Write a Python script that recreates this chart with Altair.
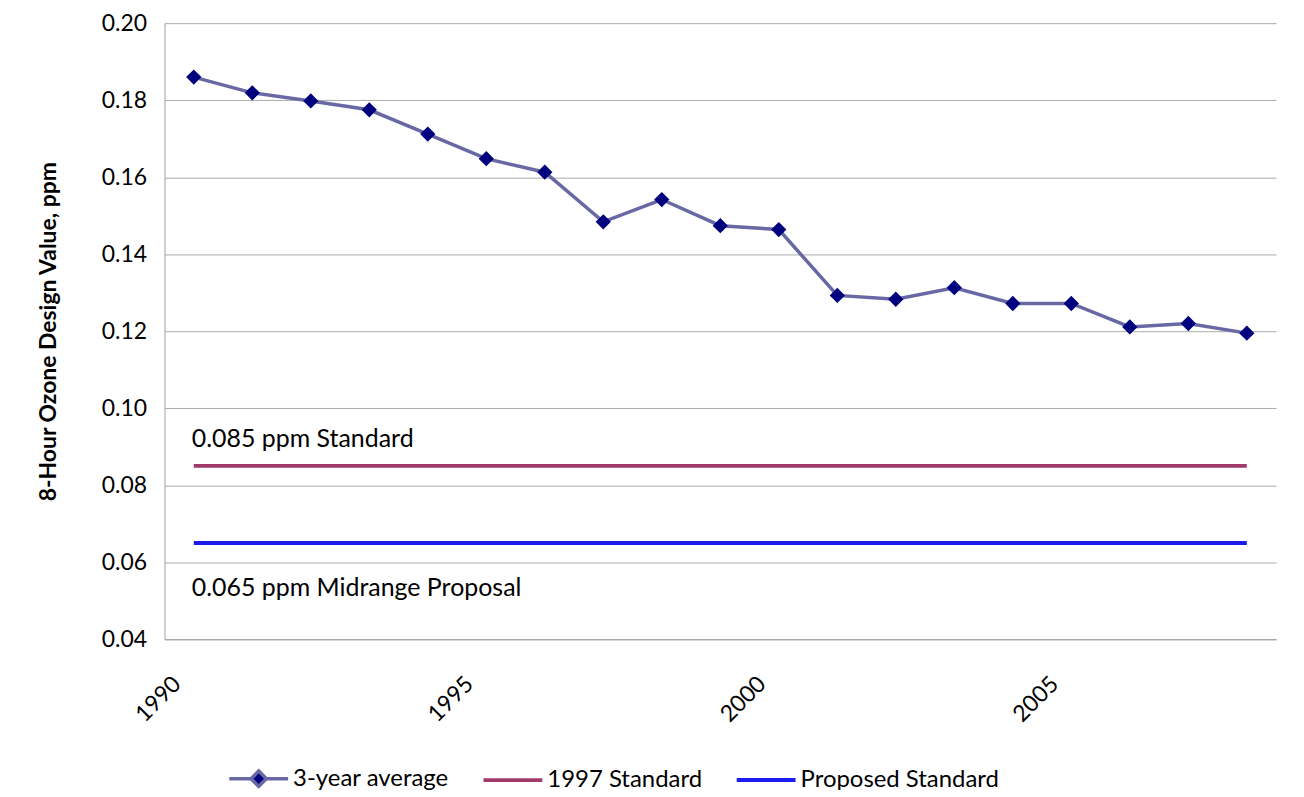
import altair as alt
import pandas as pd

years = list(range(1990, 2009))
avg3 = [0.1860, 0.1819, 0.1798, 0.1775, 0.1712, 0.1648, 0.1613, 0.1484, 0.1542,
        0.1474, 0.1464, 0.1293, 0.1283, 0.1313, 0.1272, 0.1272, 0.1211, 0.1220, 0.1195]
std1997 = 0.085
proposed = 0.065

series_names = ["3-year average", "1997 Standard", "Proposed Standard"]
series_colors = ["#6868a4", "#a13a6b", "#1c1cf0"]
series_widths = [3.5, 4, 1.5]
series_fill = ["#00007f", "transparent", "transparent"]
legend_paths = [
    "M-1,0H-0.28M0.28,0H1M0,-0.26L0.26,0L0,0.26L-0.26,0Z",
    "M-1,0H1",
    "M-1,0H1",
]

annot_text = ["0.085 ppm Standard", "0.065 ppm Midrange Proposal"]
annot_y = [0.0920, 0.0532]
annot_x = [1990, 1990]

y_ticks = [0.04, 0.06, 0.08, 0.10, 0.12, 0.14, 0.16, 0.18, 0.20]
x_labels = [1990, 1995, 2000, 2005]

rows = []
for yr, v in zip(years, avg3):
    rows.append({"year": yr, "value": v, "series": series_names[0]})
for yr in years:
    rows.append({"year": yr, "value": std1997, "series": series_names[1]})
for yr in years:
    rows.append({"year": yr, "value": proposed, "series": series_names[2]})
df = pd.DataFrame(rows)
df_pts = df[df["series"] == series_names[0]]
df_annot = pd.DataFrame({"year": annot_x, "value": annot_y, "text": annot_text})

FONT = "Lato"

x_enc = alt.X("year:O", scale=alt.Scale(paddingInner=0, paddingOuter=0),
              axis=alt.Axis(values=x_labels, title=None, labelAngle=-45, labelAlign="right",
                            labelBaseline="middle", labelPadding=41, labelOffset=-17,
                            ticks=False, grid=False,
                            domainColor="#a0a0a0", labelFontSize=23, labelColor="#000000"))
y_enc = alt.Y("value:Q", scale=alt.Scale(domain=[0.04, 0.20], nice=False, zero=False),
              axis=alt.Axis(values=y_ticks, format=".2f", title="8-Hour Ozone Design Value, ppm",
                            titleFontSize=23, titleFontWeight="bold", titlePadding=41,
                            labelFontSize=23, labelPadding=18, ticks=False, grid=True,
                            gridColor="#ababab", domainColor="#a0a0a0", labelColor="#000000",
                            titleColor="#000000"))

legend = alt.Legend(title=None, orient="none", direction="horizontal", legendX=63, legendY=726,
                    labelFontSize=24, labelFont=FONT, labelLimit=400, symbolSize=3481,
                    symbolStrokeWidth=3.5, labelOffset=3, columnPadding=26, labelColor="#000000")

color_scale = alt.Scale(domain=series_names, range=series_colors)
sw_scale = alt.Scale(domain=series_names, range=series_widths)

lines = alt.Chart(df).mark_line().encode(
    x=x_enc, y=y_enc,
    color=alt.Color("series:N", scale=color_scale, legend=legend),
    strokeWidth=alt.StrokeWidth("series:N", scale=sw_scale, legend=None),
)

points = alt.Chart(df_pts).mark_point(filled=True, size=3481, strokeWidth=0, opacity=1).encode(
    x=x_enc, y=y_enc,
    fill=alt.Fill("series:N", scale=alt.Scale(domain=series_names, range=series_fill), legend=legend),
    shape=alt.Shape("series:N", scale=alt.Scale(domain=series_names, range=legend_paths), legend=legend),
)

texts = alt.Chart(df_annot).mark_text(align="left", baseline="middle", dx=-2, fontSize=25,
                                       font=FONT, color="#000000").encode(
    x=alt.X("year:O"), y=alt.Y("value:Q"), text="text:N")

chart = alt.layer(lines, points, texts).properties(
    width=1115, height=618,
    autosize=alt.AutoSizeParams(type="none"),
    padding={"left": 157, "top": 14, "right": 20, "bottom": 150},
    background="#ffffff",
).configure_axis(labelFont=FONT, titleFont=FONT).configure_view(stroke=None)

chart.save("out.html", embed_options={"renderer": "svg", "actions": False})
